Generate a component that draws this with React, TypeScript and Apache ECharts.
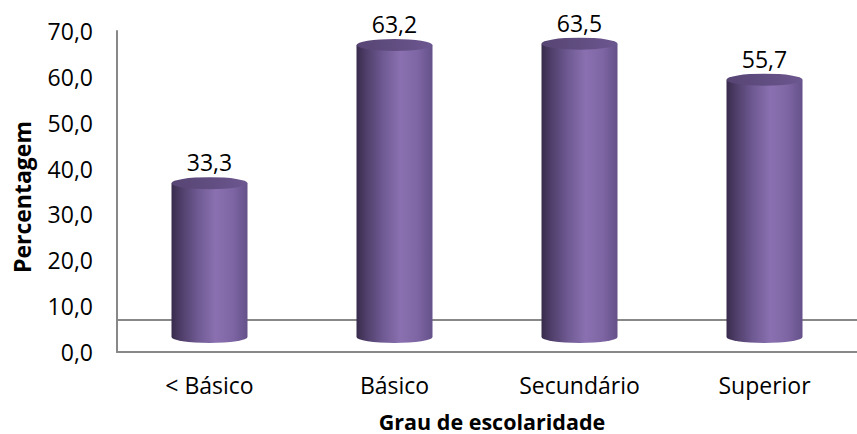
import React, { useEffect, useRef } from "react";
import * as echarts from "echarts";

const categories = ["< Básico", "Básico", "Secundário", "Superior"];
const percentages = [33.3, 63.2, 63.5, 55.7];
const yMin = 0;
const yMax = 70;
const yStep = 10;
const yAxisTitle = "Percentagem";
const xAxisTitle = "Grau de escolaridade";

const fmt = (v: number) => v.toFixed(1).replace(".", ",");

export default function App() {
  const ref = useRef<HTMLDivElement>(null);
  useEffect(() => {
    const chart = echarts.init(ref.current!, null, { renderer: "svg" });
    const font = "'Open Sans', sans-serif";
    const axisColor = "#888888";
    const option = {
      animation: false,
      backgroundColor: "#ffffff",
      grid: [
        { left: 117, top: 31, width: 740, height: 321 },
        { left: 117, top: 13.6, width: 754, height: 323.4 },
      ],
      xAxis: [
        {
          gridIndex: 0,
          type: "category",
          data: categories,
          axisLine: { show: true, lineStyle: { color: axisColor, width: 2 } },
          axisTick: { show: false },
          axisLabel: { show: false },
          splitLine: { show: false },
        },
        {
          gridIndex: 1,
          type: "category",
          data: categories,
          axisLine: { show: false },
          axisTick: { show: false },
          splitLine: { show: false },
          axisLabel: { margin: 36, fontSize: 23, color: "#000", fontFamily: font },
        },
      ],
      yAxis: [
        {
          gridIndex: 0,
          type: "value",
          min: yMin,
          max: yMax,
          interval: yStep,
          axisLine: { show: true, lineStyle: { color: axisColor, width: 2 } },
          axisTick: { show: false },
          splitLine: { show: false },
          axisLabel: { formatter: fmt, margin: 24, fontSize: 23, color: "#000", fontFamily: font },
        },
        { gridIndex: 1, type: "value", min: yMin, max: yMax, show: false },
      ],
      graphic: [
        {
          type: "line",
          shape: { x1: 117, y1: 320, x2: 857, y2: 320 },
          style: { stroke: axisColor, lineWidth: 2 },
          z: 0,
        },
        {
          type: "text",
          x: 22,
          y: 197,
          rotation: Math.PI / 2,
          style: {
            text: yAxisTitle,
            align: "center",
            verticalAlign: "middle",
            fontSize: 23,
            fontWeight: "bold",
            fontFamily: font,
            fill: "#000",
          },
        },
        {
          type: "text",
          x: 492,
          y: 421,
          style: {
            text: xAxisTitle,
            align: "center",
            verticalAlign: "middle",
            fontSize: 21.5,
            fontWeight: "bold",
            fontFamily: font,
            fill: "#000",
          },
        },
      ],
      series: [
        {
          type: "custom",
          xAxisIndex: 1,
          yAxisIndex: 1,
          data: percentages.map((v, i) => [i, v]),
          renderItem: (params: any, api: any) => {
            const idx = api.value(0);
            const v = api.value(1);
            const top = api.coord([idx, v]);
            const base = api.coord([idx, 0]);
            const cx = top[0];
            const rx = 38;
            const ry = 6;
            const yt = top[1];
            const yb = base[1];
            const body = `M${cx - rx},${yt} L${cx - rx},${yb} A${rx},${ry} 0 0 0 ${cx + rx},${yb} L${cx + rx},${yt} Z`;
            const cap = `M${cx - rx},${yt} A${rx},${ry} 0 0 0 ${cx + rx},${yt} A${rx},${ry} 0 0 0 ${cx - rx},${yt} Z`;
            return {
              type: "group",
              children: [
                {
                  type: "path",
                  shape: { pathData: body },
                  style: {
                    fill: new echarts.graphic.LinearGradient(0, 0, 1, 0, [
                      { offset: 0, color: "#382b4c" },
                      { offset: 0.12, color: "#4e3d68" },
                      { offset: 0.35, color: "#6f5a93" },
                      { offset: 0.58, color: "#8a70b0" },
                      { offset: 0.8, color: "#7e66a4" },
                      { offset: 1, color: "#65518a" },
                    ]),
                    stroke: null,
                  },
                },
                {
                  type: "path",
                  shape: { pathData: cap },
                  style: {
                    fill: new echarts.graphic.LinearGradient(0, 0, 1, 0, [
                      { offset: 0, color: "#574574" },
                      { offset: 0.6, color: "#634f83" },
                      { offset: 1, color: "#6c5890" },
                    ]),
                    stroke: null,
                  },
                },
                {
                  type: "text",
                  style: {
                    text: fmt(v),
                    x: cx,
                    y: yt - 21,
                    align: "center",
                    verticalAlign: "middle",
                    fontSize: 23,
                    fontFamily: font,
                    fill: "#000",
                  },
                },
              ],
            };
          },
        },
      ],
    };
    chart.setOption(option as any);
    return () => chart.dispose();
  }, []);
  return (
    <div
      ref={ref}
      style={{ position: "fixed", left: 0, top: 0, width: 857, height: 434 }}
    />
  );
}
